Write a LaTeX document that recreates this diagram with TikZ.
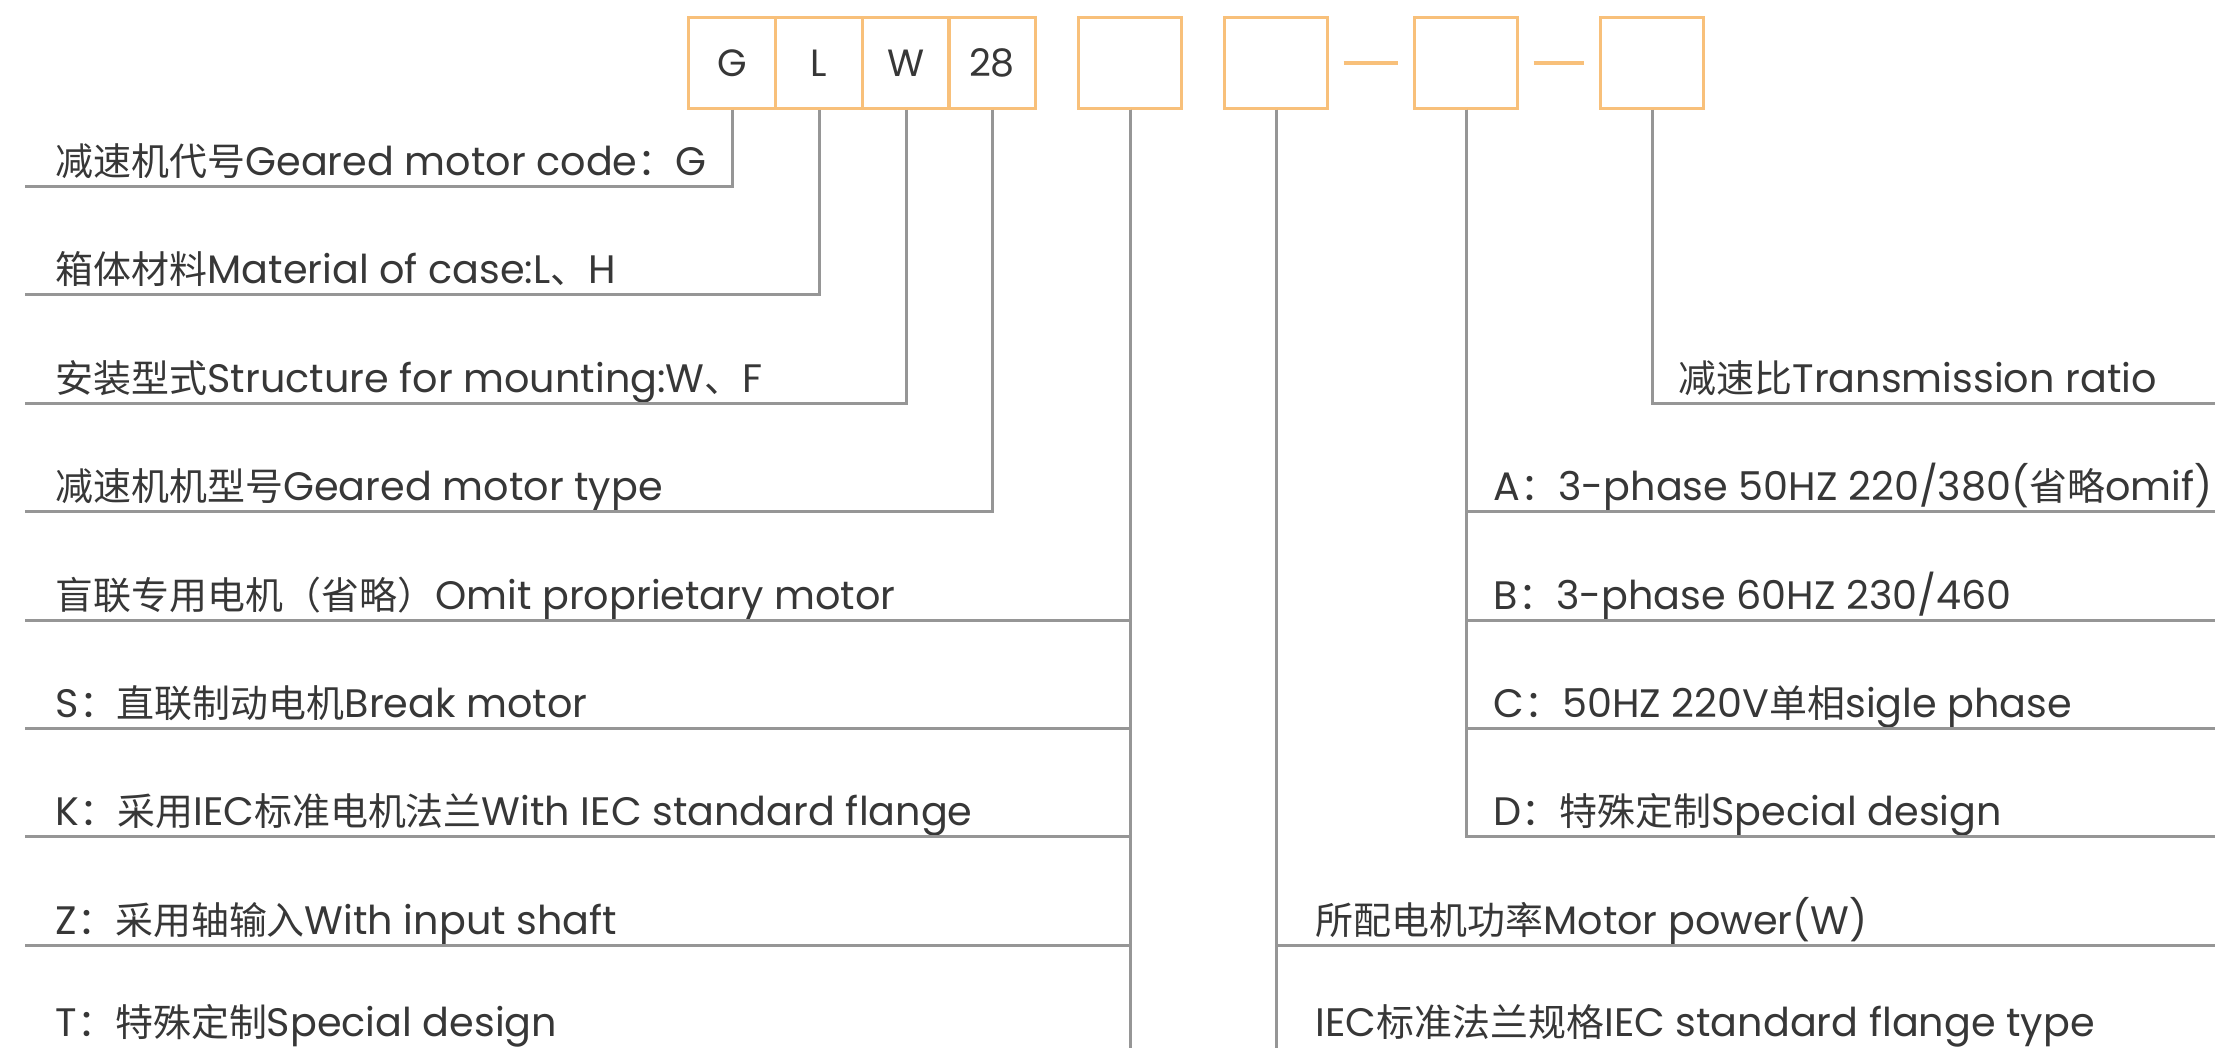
\documentclass[tikz,border=0pt]{standalone}
\usepackage{fontspec}
\setmainfont{Poppins}
\newfontfamily\cjk{Noto Sans CJK SC}[Scale=0.955]
\newcommand{\zh}[1]{{\cjk #1}}
\definecolor{boxorange}{RGB}{248,192,122}
\definecolor{leadgray}{RGB}{150,150,150}
\definecolor{txtgray}{RGB}{55,55,55}

\begin{document}
\begin{tikzpicture}[x=0.01cm,y=-0.01cm,
    codebox/.style={draw=boxorange,line width=0.03cm,minimum width=0.86cm,minimum height=0.9cm,
      inner sep=0pt,text=txtgray,font=\fontsize{10.8pt}{13pt}\selectfont},
    emptybox/.style={codebox,minimum width=1.02cm},
    lead/.style={draw=leadgray,line width=0.03cm},
    dashline/.style={draw=boxorange,line width=0.04cm,shorten <=0.15cm,shorten >=0.15cm},
    desc/.style={anchor=base west,inner sep=0pt,text=txtgray,font=\fontsize{11.3pt}{13pt}\selectfont}]
  \useasboundingbox (0,0) rectangle (2215,1048);

  % code boxes
  \node[codebox] (g) at (732,63) {G};
  \node[codebox] (l) at (819,63) {L};
  \node[codebox] (w) at (906,63) {W};
  \node[codebox] (t28) at (992,63) {28};
  \node[emptybox] (b5) at (1130,63) {};
  \node[emptybox] (b6) at (1276,63) {};
  \node[emptybox] (b7) at (1466,63) {};
  \node[emptybox] (b8) at (1652,63) {};
  \draw[dashline] (b6.east) -- (b7.west);
  \draw[dashline] (b7.east) -- (b8.west);

  % line ends
  \coordinate (bot) at (0,1048);
  \coordinate (e1) at (25,186);
  \coordinate (e2) at (25,294);
  \coordinate (e3) at (25,403);
  \coordinate (e4) at (25,511);
  \coordinate (e5) at (25,620);
  \coordinate (e6) at (25,728);
  \coordinate (e7) at (25,836);
  \coordinate (e8) at (25,945);
  \coordinate (f3) at (2215,403);
  \coordinate (f4) at (2215,511);
  \coordinate (f5) at (2215,620);
  \coordinate (f6) at (2215,728);
  \coordinate (f7) at (2215,836);
  \coordinate (f8) at (2215,945);

  % left texts
  \node[desc] (g1) at (55,175) {\zh{减速机代号}Geared motor code\zh{：}G};
  \node[desc] (g2) at (55,283) {\zh{箱体材料}Material of case:L\zh{、}H};
  \node[desc] (g3) at (55,392) {\zh{安装型式}Structure for mounting:W\zh{、}F};
  \node[desc] (g4) at (55,500) {\zh{减速机机型号}Geared motor type};
  \node[desc] (m1) at (55,609) {\zh{盲联专用电机（省略）}Omit proprietary motor};
  \node[desc] (m2) at (55,717) {S\zh{：直联制动电机}Break motor};
  \node[desc] (m3) at (55,825) {K\zh{：采用}IEC\zh{标准电机法兰}With IEC standard flange};
  \node[desc] (m4) at (55,934) {Z\zh{：采用轴输入}With input shaft};
  \node[desc] (m5) at (55,1036) {T\zh{：特殊定制}Special design};

  % right texts
  \node[desc] (ratio) at (1678,392) {\zh{减速比}Transmission ratio};
  \node[desc] (va) at (1493,500) {A\zh{：}3-phase 50HZ 220/380(\zh{省略}omif)};
  \node[desc] (vb) at (1493,609) {B\zh{：}3-phase 60HZ 230/460};
  \node[desc] (vc) at (1493,717) {C\zh{：}50HZ 220V\zh{单相}sigle phase};
  \node[desc] (vd) at (1493,825) {D\zh{：特殊定制}Special design};
  \node[desc] (pw) at (1315,934) {\zh{所配电机功率}Motor power(W)};
  \node[desc] (fl) at (1315,1036) {IEC\zh{标准法兰规格}IEC standard flange type};

  % leaders
  \draw[lead] (g.south) |- (e1);
  \draw[lead] (l.south) |- (e2);
  \draw[lead] (w.south) |- (e3);
  \draw[lead] (t28.south) |- (e4);
  \draw[lead] (b5.south) -- (b5.south |- bot);
  \draw[lead] (b5.south) |- (e5);
  \draw[lead] (b5.south) |- (e6);
  \draw[lead] (b5.south) |- (e7);
  \draw[lead] (b5.south) |- (e8);
  \draw[lead] (b6.south) -- (b6.south |- bot);
  \draw[lead] (b6.south) |- (f8);
  \draw[lead] (b7.south) |- (f4);
  \draw[lead] (b7.south) |- (f5);
  \draw[lead] (b7.south) |- (f6);
  \draw[lead] (b7.south) |- (f7);
  \draw[lead] (b8.south) |- (f3);
\end{tikzpicture}
\end{document}
